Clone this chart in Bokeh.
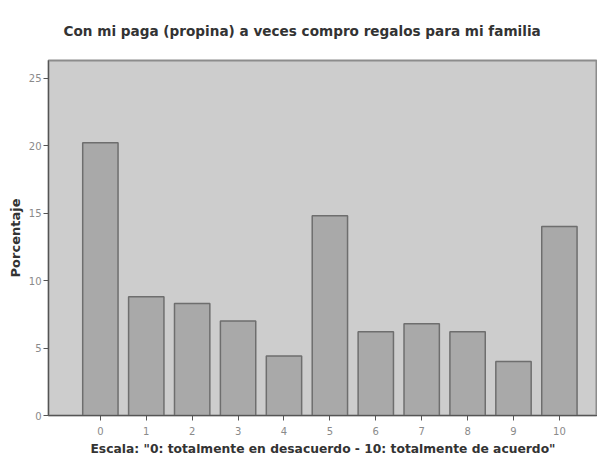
from bokeh.plotting import figure
from bokeh.models import Range1d, FixedTicker, Title
from bokeh.embed import file_html
from bokeh.resources import INLINE

title_text = "Con mi paga (propina) a veces compro regalos para mi familia"
x_label = "Escala: \"0: totalmente en desacuerdo - 10: totalmente de acuerdo\""
y_label = "Porcentaje"

categories = [0, 1, 2, 3, 4, 5, 6, 7, 8, 9, 10]
percentages = [20.2, 8.8, 8.3, 7.0, 4.4, 14.8, 6.2, 6.8, 6.2, 4.0, 14.0]
y_ticks = [0, 5, 10, 15, 20, 25]

FONT = "DejaVu Sans"

p = figure(width=597, height=458, output_backend="svg", toolbar_location=None,
           x_range=Range1d(-1.13, 10.83), y_range=Range1d(0, 26.3),
           min_border_left=48, min_border_right=0, min_border_top=60,
           min_border_bottom=43)

p.background_fill_color = "#cdcdcd"
p.border_fill_color = "white"
p.outline_line_color = "#8c8c8c"
p.outline_line_width = 2

p.vbar(x=categories, top=percentages, width=0.77, bottom=0,
       fill_color="#a9a9a9", line_color="#6e6e6e", line_width=1.5)

p.xgrid.visible = False
p.ygrid.visible = False

t = Title(text=title_text, align="left", text_font=FONT,
          text_font_size="13.6px", text_font_style="bold", text_color="#333333",
          standoff=39, offset=15, vertical_align="top")
p.add_layout(t, "above")

p.xaxis.ticker = FixedTicker(ticks=categories)
p.xaxis.major_label_overrides = {c: str(c) for c in categories}
p.yaxis.ticker = FixedTicker(ticks=y_ticks)
for ax in (p.xaxis[0], p.yaxis[0]):
    ax.minor_tick_line_color = None
    ax.major_tick_out = 5
    ax.major_tick_in = 0
    ax.major_tick_line_color = "#555555"
    ax.axis_line_color = "#555555"
    ax.major_label_text_font = FONT
    ax.major_label_text_font_size = "10px"
    ax.major_label_text_color = "#8a8a8a"
    ax.axis_label_text_font = FONT
    ax.axis_label_text_font_size = "12.3px"
    ax.axis_label_text_font_style = "bold"
    ax.axis_label_text_color = "#333333"

p.xaxis.axis_label = x_label
p.yaxis.axis_label = y_label
p.yaxis.axis_label_text_font_size = "13px"
p.xaxis.major_label_standoff = 6
p.xaxis.axis_label_standoff = 4
p.yaxis.major_label_standoff = 2
p.yaxis.axis_label_standoff = 3

open("out.html", "w").write(file_html(p, INLINE))
